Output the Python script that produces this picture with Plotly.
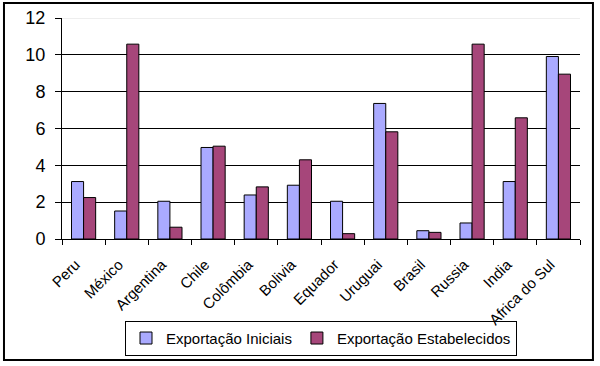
import plotly.graph_objects as go

categories = ["Peru", "México", "Argentina", "Chile", "Colômbia", "Bolivia",
              "Equador", "Uruguai", "Brasil", "Russia", "India", "Africa do Sul"]
iniciais = [3.12, 1.52, 2.05, 4.97, 2.39, 2.92, 2.05, 7.36, 0.45, 0.87, 3.12, 9.91]
estabelecidos = [2.25, 10.58, 0.64, 5.04, 2.83, 4.30, 0.29, 5.82, 0.36, 10.58, 6.58, 8.95]
y_ticks = [0, 2, 4, 6, 8, 10, 12]

fig = go.Figure()
fig.add_trace(go.Bar(x=categories, y=iniciais, name="Exportação Iniciais",
                     marker=dict(color="#AAAAFF", line=dict(color="black", width=1))))
fig.add_trace(go.Bar(x=categories, y=estabelecidos, name="Exportação Estabelecidos",
                     marker=dict(color="#A6467A", line=dict(color="black", width=1))))

fig.update_layout(
    width=600, height=366,
    margin=dict(l=62, r=20, t=18, b=127, autoexpand=False),
    paper_bgcolor="white", plot_bgcolor="white",
    barmode="group", bargap=0.44, bargroupgap=0,
    font=dict(family="Arial, Liberation Sans, sans-serif", color="black"),
    showlegend=True,
    legend=dict(orientation="h", x=0.5, xanchor="center", y=-0.37, yanchor="top",
                bordercolor="black", borderwidth=1, font=dict(size=15),
                bgcolor="rgba(255,255,255,0)",
                itemwidth=30, tracegroupgap=0),
    xaxis=dict(showline=True, linecolor="black", linewidth=1, ticks="outside",
               tickson="boundaries", ticklen=5, tickcolor="black",
               tickangle=-45, tickfont=dict(size=15), showgrid=False,
               automargin=False, ticklabelstandoff=10, ticklabelshift=-8),
    yaxis=dict(range=[0, 12], tickvals=y_ticks, showline=True, linecolor="black",
               linewidth=1, ticks="outside", ticklen=6, tickcolor="black",
               tickfont=dict(size=18), showgrid=True, gridcolor="black",
               gridwidth=1, zeroline=False, automargin=False,
               ticklabelstandoff=6),
)

# light top gridline
fig.add_shape(type="line", xref="paper", yref="y", x0=0, x1=1, y0=12, y1=12,
              line=dict(color="#DDDDDD", width=1), layer="above")
# outer chart border
fig.add_shape(type="rect", xref="paper", yref="paper",
              x0=-0.112, x1=1.025, y0=-0.548, y1=1.068,
              line=dict(color="black", width=2))

fig.write_html("out.html", config={"displayModeBar": False},
               post_script="document.body.style.margin='0';document.body.style.overflow='hidden';")
